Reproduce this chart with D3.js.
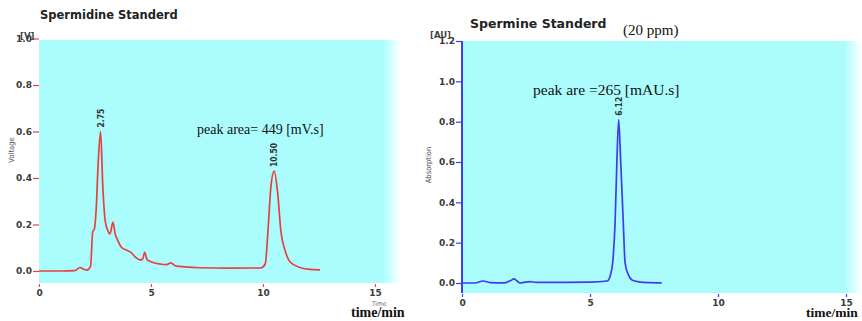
<!DOCTYPE html>
<html>
<head>
<meta charset="utf-8">
<script src="https://cdn.jsdelivr.net/npm/d3@7"></script>
<style>
  body { margin: 0; background: #fff; }
  svg { display: block; }
</style>
</head>
<body>
<svg id="vis" width="862" height="321"></svg>
<script>
// spermidine trace (time in min, voltage)
let spdTime = [0, 1.0, 1.6, 1.83, 2.0, 2.14, 2.3, 2.4, 2.47, 2.55, 2.65, 2.75, 2.85, 2.95, 3.05, 3.17, 3.3, 3.4, 3.5, 3.7, 3.9, 4.1, 4.3, 4.5, 4.62, 4.72, 4.82, 5.0, 5.4, 5.7, 5.88, 6.1, 6.5, 7.2, 8.5, 9.9, 10.1, 10.22, 10.35, 10.5, 10.65, 10.8, 10.98, 11.2, 11.65, 12.0, 12.55];
let spdValue = [0, 0, 0.002, 0.015, 0.008, 0.004, 0.02, 0.17, 0.18, 0.26, 0.48, 0.6, 0.36, 0.22, 0.18, 0.16, 0.21, 0.16, 0.135, 0.1, 0.09, 0.08, 0.06, 0.048, 0.05, 0.08, 0.05, 0.04, 0.03, 0.027, 0.035, 0.022, 0.018, 0.014, 0.012, 0.013, 0.03, 0.17, 0.36, 0.43, 0.34, 0.17, 0.09, 0.04, 0.015, 0.008, 0.005];

// spermine trace (time in min, absorption)
let spmTime = [0, 0.5, 0.82, 1.1, 1.68, 1.9, 2.03, 2.15, 2.27, 2.45, 2.66, 2.9, 4.0, 5.0, 5.67, 5.8, 5.9, 5.98, 6.05, 6.12, 6.2, 6.3, 6.37, 6.5, 6.64, 6.9, 7.3, 7.8];
let spmValue = [0, 0, 0.01, 0.002, 0.001, 0.012, 0.02, 0.01, 0.0, 0.004, 0.007, 0.003, 0.003, 0.004, 0.01, 0.04, 0.12, 0.3, 0.6, 0.81, 0.6, 0.3, 0.1, 0.04, 0.015, 0.006, 0.002, 0.001];

let xTicks = [0, 5, 10, 15];
let spdYTicks = [0, 0.2, 0.4, 0.6, 0.8, 1.0];
let spmYTicks = [0, 0.2, 0.4, 0.6, 0.8, 1.0, 1.2];

let spdPeaks = [2.75, 10.50];
let spmPeaks = [6.12];

let cyan = "#abfdfd";
let svg = d3.select("#vis");

let defs = svg.append("defs");
function fade(id, stop) {
  let g = defs.append("linearGradient").attr("id", id)
      .attr("x1", 0).attr("x2", 1).attr("y1", 0).attr("y2", 0);
  g.append("stop").attr("offset", 0).attr("stop-color", cyan);
  g.append("stop").attr("offset", stop).attr("stop-color", cyan);
  g.append("stop").attr("offset", 1).attr("stop-color", "#ffffff");
}
fade("fadeL", 0.95);
fade("fadeR", 0.955);

function drawPanel(opt) {
  let g = svg.append("g");
  let x = d3.scaleLinear().domain([0, 15]).range(opt.xRange);
  let y = d3.scaleLinear().domain(opt.yDomain).range(opt.yRange);

  g.append("rect")
    .attr("x", opt.xRange[0]).attr("y", opt.bg[0])
    .attr("width", opt.bgRight - opt.xRange[0])
    .attr("height", opt.bg[1] - opt.bg[0])
    .attr("fill", "url(#" + opt.grad + ")");

  // y axis
  let yAxis = d3.axisLeft(y).tickValues(opt.yTicks)
      .tickFormat(d3.format(".1f")).tickSize(6).tickPadding(1).tickSizeOuter(0);
  g.append("g")
    .attr("transform", "translate(" + opt.xRange[0] + ",0)")
    .call(yAxis)
    .call(a => a.select(".domain").remove())
    .call(a => a.selectAll("line").attr("stroke", opt.color).attr("stroke-width", 1.2))
    .call(a => a.selectAll("text")
      .attr("font-family", "DejaVu Sans").attr("font-weight", "bold")
      .attr("font-size", 9).attr("fill", "#3a3a3a"));

  if (opt.axisLine) {
    g.append("line")
      .attr("x1", opt.xRange[0]).attr("x2", opt.xRange[0])
      .attr("y1", opt.bg[0]).attr("y2", opt.bg[1])
      .attr("stroke", opt.color).attr("stroke-width", 2);
  }

  // x axis
  let xAxis = d3.axisBottom(x).tickValues(xTicks).tickSize(3).tickPadding(3);
  g.append("g")
    .attr("transform", "translate(0," + (opt.bg[1] + 1) + ")")
    .call(xAxis)
    .call(a => a.select(".domain").remove())
    .call(a => a.selectAll("line").attr("stroke", opt.color).attr("stroke-width", 1.2))
    .call(a => a.selectAll("text")
      .attr("font-family", "DejaVu Sans").attr("font-weight", "bold")
      .attr("font-size", 9).attr("fill", "#3a3a3a"));

  // trace
  let line = d3.line()
      .x(d => x(d[0])).y(d => y(d[1]))
      .curve(d3.curveMonotoneX);
  let pts = d3.zip(opt.time, opt.value);
  g.append("path")
    .attr("d", line(pts))
    .attr("fill", "none")
    .attr("stroke", opt.color)
    .attr("stroke-width", 1.7)
    .attr("stroke-linejoin", "round");

  // peak labels
  for (let p of opt.peaks) {
    let i = opt.time.indexOf(p);
    let px = x(p), py = y(opt.value[i]) - 4;
    g.append("text")
      .attr("transform", "translate(" + (px + 3) + "," + py + ") rotate(-90)")
      .attr("font-family", "DejaVu Sans Condensed").attr("font-weight", "bold")
      .attr("font-size", 8.5).attr("fill", "#333")
      .text(p.toFixed(2));
  }

  // rotated y label
  g.append("text")
    .attr("transform", "translate(" + opt.yLabelPos[0] + "," + opt.yLabelPos[1] + ") rotate(-90)")
    .attr("text-anchor", "middle")
    .attr("font-family", "DejaVu Sans Condensed").attr("font-size", 7.5).attr("fill", "#555")
    .text(opt.yLabel);

  // unit on top of the y axis
  g.append("text")
    .attr("x", opt.unitPos[0]).attr("y", opt.unitPos[1])
    .attr("font-family", "DejaVu Sans").attr("font-weight", "bold")
    .attr("font-size", 8.5).attr("fill", "#444")
    .text(opt.unit);

  return g;
}

drawPanel({
  xRange: [39, 375], yDomain: [0, 1], yRange: [271, 38.5],
  bg: [40, 283], bgRight: 401, grad: "fadeL", color: "#e8403c",
  yTicks: spdYTicks, time: spdTime, value: spdValue, peaks: spdPeaks,
  yLabel: "Voltage", yLabelPos: [14, 150], unit: "[V]", unitPos: [20, 39],
  axisLine: false
});

drawPanel({
  xRange: [462, 846], yDomain: [0, 1.2], yRange: [283, 41],
  bg: [41, 293], bgRight: 862, grad: "fadeR", color: "#3c3cf0",
  yTicks: spmYTicks, time: spmTime, value: spmValue, peaks: spmPeaks,
  yLabel: "Absorption", yLabelPos: [431, 165], unit: "[AU]", unitPos: [430, 38],
  axisLine: true
});

// titles and notes
svg.append("text").attr("x", 40).attr("y", 19)
  .attr("font-family", "DejaVu Sans").attr("font-weight", "bold")
  .attr("font-size", 11.5).attr("fill", "#222")
  .text("Spermidine  Standerd");

svg.append("text").attr("x", 470).attr("y", 28)
  .attr("font-family", "DejaVu Sans").attr("font-weight", "bold")
  .attr("font-size", 12.5).attr("fill", "#222")
  .text("Spermine Standerd");

svg.append("text").attr("x", 623).attr("y", 35)
  .attr("font-family", "Liberation Serif").attr("font-size", 15).attr("fill", "#111")
  .text("(20 ppm)");

svg.append("text").attr("x", 197).attr("y", 134)
  .attr("font-family", "Liberation Serif").attr("font-size", 14).attr("fill", "#111")
  .text("peak area= 449 [mV.s]");

svg.append("text").attr("x", 533).attr("y", 95)
  .attr("font-family", "Liberation Serif").attr("font-size", 15.5).attr("fill", "#111")
  .text("peak are =265 [mAU.s]");

svg.append("text").attr("x", 372).attr("y", 306)
  .attr("font-family", "DejaVu Sans Condensed").attr("font-size", 6.5).attr("fill", "#666")
  .text("Time");

svg.append("text").attr("x", 351).attr("y", 317)
  .attr("font-family", "Liberation Serif").attr("font-weight", "bold")
  .attr("font-size", 14).attr("fill", "#111")
  .text("time/min");

svg.append("text").attr("x", 806).attr("y", 317)
  .attr("font-family", "Liberation Serif").attr("font-weight", "bold")
  .attr("font-size", 13.5).attr("fill", "#111")
  .text("time/min");
</script>
</body>
</html>
